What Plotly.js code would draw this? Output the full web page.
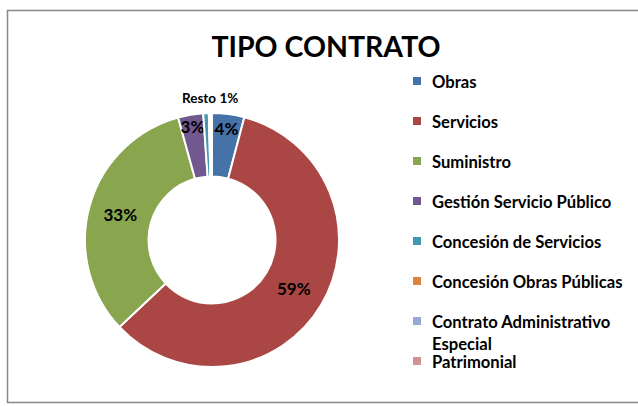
<!DOCTYPE html>
<html><head><meta charset="utf-8">
<script src="https://cdn.plot.ly/plotly-3.0.1.min.js"></script>
<style>html,body{margin:0;padding:0;background:#fff;}#chart{width:638px;height:406px;}</style>
</head><body><div id="chart"></div>
<script>
const categories = ['Obras','Servicios','Suministro','Gestión Servicio Público','Concesión de Servicios','Concesión Obras Públicas','Contrato Administrativo Especial','Patrimonial'];
const values = [4.1, 58.9, 32.7, 3.2, 0.7, 0.2, 0.15, 0.05];
const colors = ['#4572A7','#AA4643','#89A54E','#71588F','#4198AF','#DB843D','#93A9CF','#D19392'];
const restoLabel = 'Resto';
const titleText = 'TIPO CONTRATO';

const W = 638, H = 406;
const FONT = 'Lato, "Open Sans", sans-serif';
const total = values.reduce((a,b)=>a+b,0);
const shown = values.map(v => Math.round(v/total*100) >= 3);
const restoPct = Math.round(values.filter((v,i)=>!shown[i]).reduce((a,b)=>a+b,0)/total*100);

const trace = {
  type:'pie', labels:categories, values:values, sort:false, direction:'clockwise', rotation:0,
  hole:0.5,
  marker:{colors:colors, line:{color:'#fff', width:2}},
  texttemplate:'%{percent:.0%}',
  textposition: shown.map(s => s ? 'inside' : 'none'),
  insidetextorientation:'horizontal',
  textfont:{family:FONT, size:17, color:'#000', weight:'bold'},
  domain:{x:[(212-127)/W,(212+127)/W], y:[(H-367)/H,(H-113)/H]},
  showlegend:false, hoverinfo:'label+percent'
};

const px = x => x/W, py = y => 1 - y/H;
const shapes = [{type:'rect', xref:'paper', yref:'paper', x0:px(7.5), x1:px(645), y0:py(10.5), y1:py(402.5), line:{color:'#888', width:1.5}}];
const annotations = [
  {text:'<b>'+restoLabel+' '+restoPct+'%</b>', xref:'paper', yref:'paper', x:px(210), y:py(98), xanchor:'center', yanchor:'middle', showarrow:false, font:{family:FONT, size:13.5, color:'#000'}}
];
function wrap(s){ if(s.length<=26) return s; const i=s.lastIndexOf(' '); return s.slice(0,i)+'<br>'+s.slice(i+1); }
categories.forEach((c,i)=>{
  const cy = 81 + i*40;
  shapes.push({type:'rect', xref:'paper', yref:'paper', x0:px(413), x1:px(421), y0:py(cy+4), y1:py(cy-4), fillcolor:colors[i], line:{width:0}});
  annotations.push({text:'<b>'+wrap(c)+'</b>', xref:'paper', yref:'paper', x:px(431), y:py(cy-10.5), xanchor:'left', yanchor:'top', align:'left', showarrow:false, borderpad:0, font:{family:FONT, size:16.6, color:'#000'}});
});

const layout = {
  width:W, height:H, margin:{l:0,r:0,t:0,b:0}, paper_bgcolor:'#fff', plot_bgcolor:'#fff',
  title:{text:'<b>'+titleText+'</b>', x:px(326), xanchor:'center', y:py(47), yanchor:'middle', xref:'paper', yref:'paper', font:{family:FONT, size:28.5, color:'#000'}},
  uniformtext:{mode:'show', minsize:17},
  shapes:shapes, annotations:annotations, showlegend:false
};
Plotly.newPlot('chart',[trace],layout,{displayModeBar:false, staticPlot:true});
</script></body></html>
